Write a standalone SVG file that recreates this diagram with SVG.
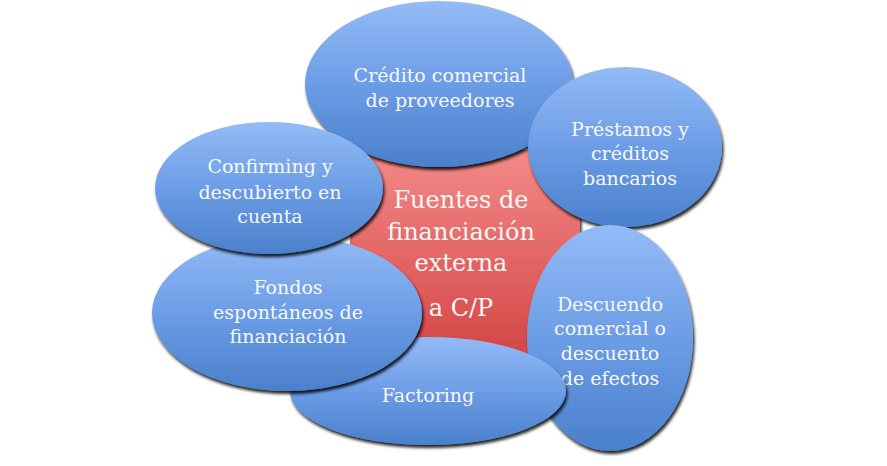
<svg xmlns="http://www.w3.org/2000/svg" width="887" height="466" viewBox="0 0 887 466">
<defs>
<linearGradient id="blue" x1="0" y1="0" x2="0" y2="1">
<stop offset="0" stop-color="#93bbf6"/>
<stop offset="0.5" stop-color="#6c9de6"/>
<stop offset="1" stop-color="#4a80cc"/>
</linearGradient>
<linearGradient id="red" x1="0" y1="0" x2="0" y2="1">
<stop offset="0" stop-color="#f38a88"/>
<stop offset="1" stop-color="#d44646"/>
</linearGradient>
<filter id="sh" x="-10%" y="-10%" width="125%" height="130%">
<feDropShadow dx="1.5" dy="3" stdDeviation="1.6" flood-color="#000" flood-opacity="0.85"/>
</filter>
<style>
.node ellipse{fill:url(#blue);filter:url(#sh)}
.t{font-family:"DejaVu Serif","Liberation Serif",serif;font-size:19px;fill:#f7f7f7;text-anchor:middle}
.c{font-family:"DejaVu Serif","Liberation Serif",serif;font-size:24px;fill:#f7f7f7;text-anchor:middle}
</style>
</defs>
<rect width="887" height="466" fill="#ffffff"/>
<g id="center">
<rect x="350" y="150" width="230" height="205" fill="url(#red)" filter="url(#sh)"/>
<text class="c" x="461" y="208">Fuentes de</text>
<text class="c" x="461" y="240">financiación</text>
<text class="c" x="461" y="271">externa</text>
<text class="c" x="461" y="316">a C/P</text>
</g>
<g id="connectors"></g>
<g id="credito" class="node">
<ellipse cx="439" cy="84" rx="134" ry="83"/>
<text class="t" x="440" y="82">Crédito comercial</text>
<text class="t" x="440" y="107">de proveedores</text>
</g>
<g id="prestamos" class="node">
<ellipse cx="625" cy="147" rx="97" ry="80"/>
<text class="t" x="630" y="136">Préstamos y</text>
<text class="t" x="630" y="160">créditos</text>
<text class="t" x="630" y="185">bancarios</text>
</g>
<g id="descuendo" class="node">
<ellipse cx="610" cy="338" rx="83" ry="113"/>
<text class="t" x="610" y="311">Descuendo</text>
<text class="t" x="610" y="335">comercial o</text>
<text class="t" x="610" y="360">descuento</text>
<text class="t" x="610" y="385">de efectos</text>
</g>
<g id="factoring" class="node">
<ellipse cx="428" cy="391" rx="138" ry="54"/>
<text class="t" x="428" y="402">Factoring</text>
</g>
<g id="fondos" class="node">
<ellipse cx="287" cy="313" rx="135" ry="78"/>
<text class="t" x="288" y="294">Fondos</text>
<text class="t" x="288" y="319">espontáneos de</text>
<text class="t" x="288" y="343">financiación</text>
</g>
<g id="confirming" class="node">
<ellipse cx="269" cy="188" rx="114" ry="66"/>
<text class="t" x="270" y="173">Confirming y</text>
<text class="t" x="270" y="199">descubierto en</text>
<text class="t" x="270" y="223">cuenta</text>
</g>
</svg>
